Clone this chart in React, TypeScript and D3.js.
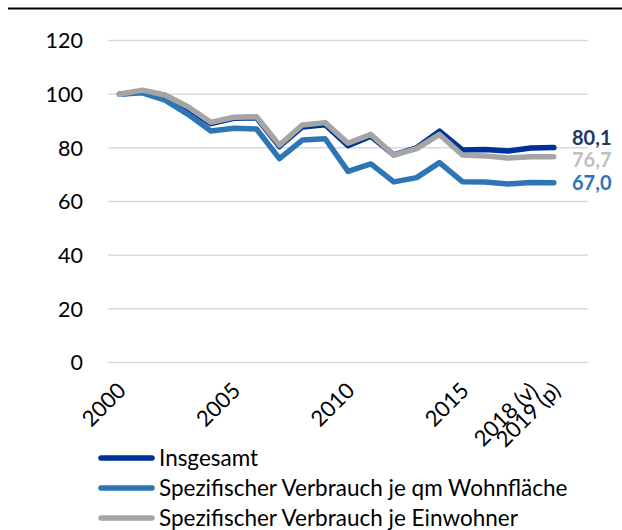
import React from 'react'
import * as d3 from 'd3'

const categories = [
  '2000', '2001', '2002', '2003', '2004', '2005', '2006', '2007', '2008', '2009',
  '2010', '2011', '2012', '2013', '2014', '2015', '2016', '2017', '2018 (v)', '2019 (p)',
]
const tickLabels = ['2000', '2005', '2010', '2015', '2018 (v)', '2019 (p)']
const yTicks = [0, 20, 40, 60, 80, 100, 120]

const insgesamt = [100, 101.0, 99.5, 94.5, 89.0, 91.0, 91.2, 80.5, 87.8, 88.6, 80.8, 84.3, 77.4, 80.0, 86.2, 79.2, 79.4, 78.8, 79.9, 80.1]
const wohnflaeche = [100, 100.5, 97.8, 92.5, 86.3, 87.3, 87.0, 76.0, 82.9, 83.4, 71.2, 74.0, 67.3, 68.9, 74.5, 67.4, 67.3, 66.5, 67.1, 67.0]
const einwohner = [100, 101.5, 99.7, 95.3, 89.5, 91.4, 91.6, 81.0, 88.5, 89.4, 81.7, 85.0, 77.3, 79.7, 85.0, 77.3, 77.0, 76.2, 76.7, 76.7]

const seriesNames = ['Insgesamt', 'Spezifischer Verbrauch je qm Wohnfläche', 'Spezifischer Verbrauch je Einwohner']
const lastLabels = ['80,1', '67,0', '76,7']

const lineColors = ['#00309A', '#2E75B6', '#A5A5A5']
const labelColors = ['#203864', '#2E75B6', '#BFBFBF']

const FONT = 'Lato, "Open Sans", sans-serif'

export default function App() {
  const x = d3.scalePoint<string>().domain(categories).range([119.4, 553.8])
  const y = d3.scaleLinear().domain([0, 120]).range([362.5, 40.5])

  const series = [insgesamt, wohnflaeche, einwohner]
  const line = d3
    .line<number>()
    .x((_, i) => x(categories[i]) as number)
    .y((d) => y(d))

  // label nudges so the end labels don't collide
  const labelDy = [-10, 0, 3]

  return (
    <svg
      width={622}
      height={530}
      style={{ position: 'absolute', left: 0, top: 0, background: '#fff' }}
      fontFamily={FONT}
    >
      <line x1={8} x2={622} y1={8.5} y2={8.5} stroke="#000" strokeWidth={2} />

      {yTicks.map((t) => (
        <g key={t}>
          <line x1={108} x2={588} y1={y(t)} y2={y(t)} stroke="#D9D9D9" strokeWidth={1.5} />
          <text x={83} y={y(t)} dy="0.36em" textAnchor="end" fontSize={21.5} fill="#000">
            {t}
          </text>
        </g>
      ))}

      {tickLabels.map((c) => {
        const px = (x(c) as number) + 8
        const py = 392
        return (
          <text
            key={c}
            x={px}
            y={py}
            textAnchor="end"
            fontSize={22}
            transform={`rotate(-45 ${px} ${py})`}
            fill="#000"
          >
            {c}
          </text>
        )
      })}

      {series.map((s, i) => (
        <path
          key={seriesNames[i]}
          d={line(s) as string}
          fill="none"
          stroke={lineColors[i]}
          strokeWidth={5.5}
          strokeLinejoin="round"
          strokeLinecap="round"
        />
      ))}

      {series.map((s, i) => (
        <text
          key={lastLabels[i]}
          x={572}
          y={y(s[s.length - 1]) + labelDy[i]}
          dy="0.36em"
          fontSize={20}
          fontWeight="bold"
          fill={labelColors[i]}
        >
          {lastLabels[i]}
        </text>
      ))}

      {seriesNames.map((name, i) => {
        const ly = 458 + i * 30
        return (
          <g key={name}>
            <line
              x1={101}
              x2={152}
              y1={ly}
              y2={ly}
              stroke={lineColors[i]}
              strokeWidth={5.5}
              strokeLinecap="round"
            />
            <text x={159} y={ly} dy="0.36em" fontSize={22.5} fill="#000">
              {name}
            </text>
          </g>
        )
      })}
    </svg>
  )
}
